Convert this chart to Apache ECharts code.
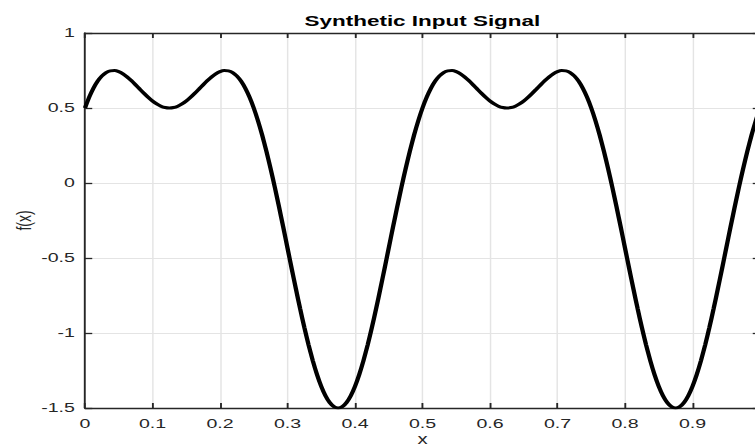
<!DOCTYPE html>
<html>
<head>
<meta charset="utf-8">
<script src="https://cdn.jsdelivr.net/npm/echarts@6/dist/echarts.min.js"></script>
<style>
html,body{margin:0;padding:0;background:#fff;overflow:hidden;}
#wrap{width:755px;height:448px;overflow:hidden;position:relative;}
#c{width:521px;height:448px;transform:scaleX(1.44914);transform-origin:0 0;}
</style>
</head>
<body>
<div id="wrap"><div id="c"></div></div>
<script>
var titleText = "Synthetic Input Signal";
var xName = "x";
var yName = "f(x)";
var xTicks = [0, 0.1, 0.2, 0.3, 0.4, 0.5, 0.6, 0.7, 0.8, 0.9];
var yTicks = [-1.5, -1, -0.5, 0, 0.5, 1];

var xs = [0, 0.00625, 0.0125, 0.01875, 0.025, 0.03125, 0.0375, 0.04375, 0.05, 0.05625,
  0.0625, 0.06875, 0.075, 0.08125, 0.0875, 0.09375, 0.1, 0.10625, 0.1125, 0.11875,
  0.125, 0.13125, 0.1375, 0.14375, 0.15, 0.15625, 0.1625, 0.16875, 0.175, 0.18125,
  0.1875, 0.19375, 0.2, 0.20625, 0.2125, 0.21875, 0.225, 0.23125, 0.2375, 0.24375,
  0.25, 0.25625, 0.2625, 0.26875, 0.275, 0.28125, 0.2875, 0.29375, 0.3, 0.30625,
  0.3125, 0.31875, 0.325, 0.33125, 0.3375, 0.34375, 0.35, 0.35625, 0.3625, 0.36875,
  0.375, 0.38125, 0.3875, 0.39375, 0.4, 0.40625, 0.4125, 0.41875, 0.425, 0.43125,
  0.4375, 0.44375, 0.45, 0.45625, 0.4625, 0.46875, 0.475, 0.48125, 0.4875, 0.49375,
  0.5, 0.50625, 0.5125, 0.51875, 0.525, 0.53125, 0.5375, 0.54375, 0.55, 0.55625,
  0.5625, 0.56875, 0.575, 0.58125, 0.5875, 0.59375, 0.6, 0.60625, 0.6125, 0.61875,
  0.625, 0.63125, 0.6375, 0.64375, 0.65, 0.65625, 0.6625, 0.66875, 0.675, 0.68125,
  0.6875, 0.69375, 0.7, 0.70625, 0.7125, 0.71875, 0.725, 0.73125, 0.7375, 0.74375,
  0.75, 0.75625, 0.7625, 0.76875, 0.775, 0.78125, 0.7875, 0.79375, 0.8, 0.80625,
  0.8125, 0.81875, 0.825, 0.83125, 0.8375, 0.84375, 0.85, 0.85625, 0.8625, 0.86875,
  0.875, 0.88125, 0.8875, 0.89375, 0.9, 0.90625, 0.9125, 0.91875, 0.925, 0.93125,
  0.9375, 0.94375, 0.95, 0.95625, 0.9625, 0.96875, 0.975, 0.98125, 0.9875, 0.99375,
  1];

var fx = [0.5, 0.5723, 0.632, 0.679, 0.7135, 0.7362, 0.7479, 0.7495, 0.7423, 0.7277,
  0.7071, 0.6822, 0.6545, 0.6256, 0.5971, 0.5703, 0.5466, 0.5269, 0.5122, 0.5031,
  0.5, 0.5031, 0.5122, 0.5269, 0.5466, 0.5703, 0.5971, 0.6256, 0.6545, 0.6822,
  0.7071, 0.7277, 0.7423, 0.7495, 0.7479, 0.7362, 0.7135, 0.679, 0.632, 0.5723,
  0.5, 0.4154, 0.3191, 0.2121, 0.0955, -0.0291, -0.1601, -0.2955, -0.4333, -0.5712,
  -0.7071, -0.8386, -0.9635, -1.0796, -1.1849, -1.2774, -1.3556, -1.4179, -1.4632, -1.4908,
  -1.5, -1.4908, -1.4632, -1.4179, -1.3556, -1.2774, -1.1849, -1.0796, -0.9635, -0.8386,
  -0.7071, -0.5712, -0.4333, -0.2955, -0.1601, -0.0291, 0.0955, 0.2121, 0.3191, 0.4154,
  0.5, 0.5723, 0.632, 0.679, 0.7135, 0.7362, 0.7479, 0.7495, 0.7423, 0.7277,
  0.7071, 0.6822, 0.6545, 0.6256, 0.5971, 0.5703, 0.5466, 0.5269, 0.5122, 0.5031,
  0.5, 0.5031, 0.5122, 0.5269, 0.5466, 0.5703, 0.5971, 0.6256, 0.6545, 0.6822,
  0.7071, 0.7277, 0.7423, 0.7495, 0.7479, 0.7362, 0.7135, 0.679, 0.632, 0.5723,
  0.5, 0.4154, 0.3191, 0.2121, 0.0955, -0.0291, -0.1601, -0.2955, -0.4333, -0.5712,
  -0.7071, -0.8386, -0.9635, -1.0796, -1.1849, -1.2774, -1.3556, -1.4179, -1.4632, -1.4908,
  -1.5, -1.4908, -1.4632, -1.4179, -1.3556, -1.2774, -1.1849, -1.0796, -0.9635, -0.8386,
  -0.7071, -0.5712, -0.4333, -0.2955, -0.1601, -0.0291, 0.0955, 0.2121, 0.3191, 0.4154,
  0.5];

var pts = xs.map(function (x, i) { return [x, fx[i]]; });

var FONT = '"Liberation Sans", Arial, Helvetica, sans-serif';
var AX = '#262626';
var GRID = '#e4e4e4';

function fmtX(v) {
  for (var i = 0; i < xTicks.length; i++) if (Math.abs(xTicks[i] - v) < 1e-9) return String(xTicks[i]);
  return '';
}
function fmtY(v) {
  for (var i = 0; i < yTicks.length; i++) if (Math.abs(yTicks[i] - v) < 1e-9) return String(yTicks[i]);
  return '';
}

var chart = echarts.init(document.getElementById('c'), null, {renderer: 'svg', width: 521, height: 448});
chart.setOption({
  animation: false,
  backgroundColor: '#fff',
  title: {
    text: titleText,
    left: 291.5,
    top: 13,
    padding: 0,
    textAlign: 'center',
    textStyle: {fontFamily: FONT, fontSize: 15.5, fontWeight: 'bold', color: '#000'}
  },
  grid: {left: 58.65, top: 33, width: 465.8, height: 375, containLabel: false, outerBoundsMode: 'none'},
  xAxis: [{
    type: 'value', min: 0, max: 1, interval: 0.1, position: 'bottom',
    name: xName, nameLocation: 'middle', nameGap: 24, nameMoveOverlap: false,
    nameTextStyle: {fontFamily: FONT, fontSize: 14, color: AX, lineHeight: 14},
    axisLine: {show: true, onZero: false, lineStyle: {color: AX, width: 1.3}},
    axisTick: {show: true, inside: true, length: 5, lineStyle: {color: AX, width: 1.3}},
    axisLabel: {fontFamily: FONT, fontSize: 13.5, color: AX, margin: 9, lineHeight: 14, formatter: fmtX, showMaxLabel: false},
    splitLine: {show: true, lineStyle: {color: GRID, width: 1}}
  }, {
    type: 'value', min: 0, max: 1, interval: 0.1, position: 'top',
    axisLine: {show: true, onZero: false, lineStyle: {color: AX, width: 1.3}},
    axisTick: {show: true, inside: true, length: 5, lineStyle: {color: AX, width: 1.3}},
    axisLabel: {show: false},
    splitLine: {show: false}
  }],
  yAxis: [{
    type: 'value', min: -1.5, max: 1, interval: 0.5, position: 'left',
    name: yName, nameLocation: 'middle', nameGap: 35, nameRotate: 90, nameMoveOverlap: false,
    nameTextStyle: {fontFamily: FONT, fontSize: 14, color: AX},
    axisLine: {show: true, onZero: false, lineStyle: {color: AX, width: 1.3}},
    axisTick: {show: true, inside: true, length: 5, lineStyle: {color: AX, width: 1.3}},
    axisLabel: {fontFamily: FONT, fontSize: 13.5, color: AX, margin: 7, formatter: fmtY},
    splitLine: {show: true, lineStyle: {color: GRID, width: 1}}
  }, {
    type: 'value', min: -1.5, max: 1, interval: 0.5, position: 'right',
    axisLine: {show: true, onZero: false, lineStyle: {color: AX, width: 1.3}},
    axisTick: {show: true, inside: true, length: 5, lineStyle: {color: AX, width: 1.3}},
    axisLabel: {show: false},
    splitLine: {show: false}
  }],
  series: [{
    type: 'line',
    xAxisIndex: 0,
    yAxisIndex: 0,
    data: pts,
    smooth: 0.25,
    showSymbol: false,
    symbol: 'none',
    lineStyle: {color: '#000', width: 3}
  }]
});
</script>
</body>
</html>
